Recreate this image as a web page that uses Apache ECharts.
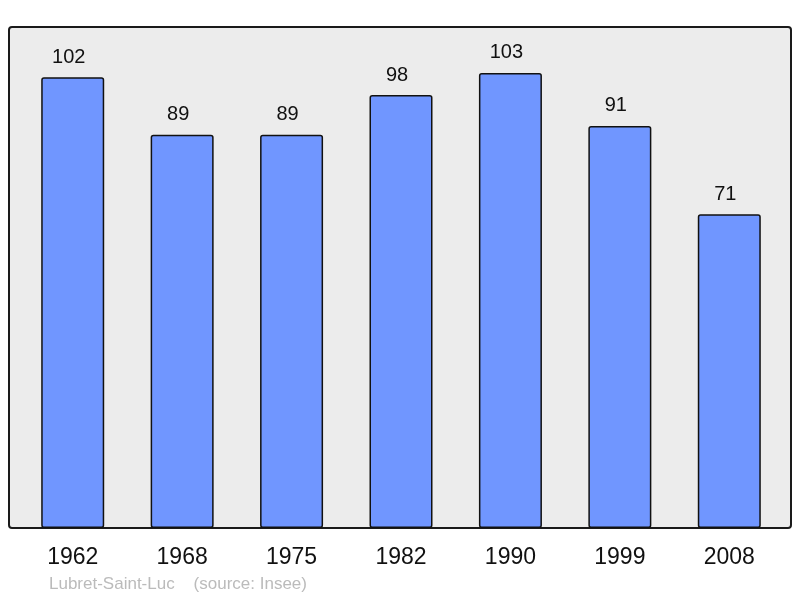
<!DOCTYPE html>
<html>
<head>
<meta charset="utf-8">
<script src="https://cdn.jsdelivr.net/npm/echarts@6/dist/echarts.min.js"></script>
<style>
html,body{margin:0;padding:0;background:#fff;}
#chart{width:800px;height:598px;}
</style>
</head>
<body>
<div id="chart"></div>
<script>
// recensements
var years = ['1962', '1968', '1975', '1982', '1990', '1999', '2008'];
var population = [102, 89, 89, 98, 103, 91, 71];
var commune = 'Lubret-Saint-Luc';
var source = '(source: Insee)';

var chart = echarts.init(document.getElementById('chart'));

chart.setOption({
	animation: false,
	title: {
		text: commune + '    ' + source,
		left: 44,
		top: 571,
		textStyle: {
			fontFamily: 'Liberation Sans',
			fontSize: 17,
			fontWeight: 'normal',
			color: '#bbbbbb'
		}
	},
	// cadre gris
	graphic: [{
		type: 'rect',
		z: -10,
		shape: {x: 9, y: 27, width: 782, height: 501, r: 3},
		style: {fill: '#ececec', stroke: '#1a1a1a', lineWidth: 2}
	}],
	grid: {left: 18, right: 16, top: 27, bottom: 70},
	xAxis: {
		type: 'category',
		data: years,
		axisLine: {show: false},
		axisTick: {show: false},
		axisLabel: {
			margin: 18,
			fontFamily: 'Liberation Sans',
			fontSize: 23,
			color: '#111'
		}
	},
	yAxis: {
		type: 'value',
		min: 0,
		max: 113.4,
		show: false,
		splitLine: {show: false}
	},
	series: [{
		type: 'bar',
		data: population,
		barWidth: 63,
		itemStyle: {
			color: '#7096ff',
			borderColor: '#111',
			borderWidth: 1.5,
			borderRadius: 2
		},
		label: {
			show: true,
			position: 'top',
			distance: 10,
			offset: [-4, 0],
			fontFamily: 'Liberation Sans',
			fontSize: 20,
			color: '#111'
		}
	}]
});
</script>
</body>
</html>
